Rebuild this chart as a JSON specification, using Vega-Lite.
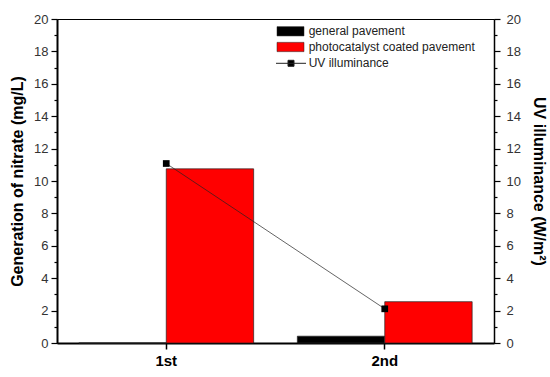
{
  "$schema": "https://vega.github.io/schema/vega-lite/v6.json",
  "width": 437,
  "height": 324,
  "autosize": "none",
  "padding": {"left": 57, "top": 19, "right": 56, "bottom": 34},
  "background": "white",
  "config": {
    "font": "Liberation Sans",
    "view": {"stroke": "black", "strokeWidth": 1},
    "axis": {"grid": false, "domainColor": "black", "tickColor": "black", "labelColor": "#333", "titleColor": "black"},
    "legend": {"padding": 0, "labelFont": "Liberation Sans", "labelFontSize": 12, "labelColor": "#222", "labelLimit": 300}
  },
  "datasets": {
    "bars": [
      {"trial": "1st", "series": "general pavement", "nitrate": 0},
      {"trial": "1st", "series": "photocatalyst coated pavement", "nitrate": 10.75},
      {"trial": "2nd", "series": "general pavement", "nitrate": 0.42},
      {"trial": "2nd", "series": "photocatalyst coated pavement", "nitrate": 2.55}
    ],
    "uv": [
      {"trial": "1st", "measure": "UV illuminance", "uv": 11.08},
      {"trial": "2nd", "measure": "UV illuminance", "uv": 2.11}
    ]
  },
  "encoding": {
    "x": {
      "field": "trial", "type": "nominal",
      "scale": {"domain": ["1st", "2nd"], "paddingInner": 0.2, "paddingOuter": 0.1},
      "axis": {"title": null, "labelAngle": 0, "labelFontSize": 15, "labelFontWeight": "bold", "labelColor": "black", "domainWidth": 2, "tickSize": 6, "tickWidth": 1.5, "labelPadding": 4}
    }
  },
  "layer": [
    {
      "data": {"name": "bars"},
      "mark": {"type": "bar", "stroke": "#222", "strokeWidth": 0.7},
      "encoding": {
        "xOffset": {"field": "series", "type": "nominal", "scale": {"domain": ["general pavement", "photocatalyst coated pavement"], "paddingInner": 0, "paddingOuter": 0}},
        "y": {
          "field": "nitrate", "type": "quantitative",
          "scale": {"domain": [0, 20], "nice": false},
          "axis": {
            "orient": "left", "title": "Generation of nitrate (mg/L)", "titleFontSize": 16, "titleFontWeight": "bold", "titlePadding": 8,
            "values": [0,1,2,3,4,5,6,7,8,9,10,11,12,13,14,15,16,17,18,19,20],
            "labelExpr": "datum.value % 2 === 0 ? datum.label : ''",
            "tickSize": {"condition": {"test": "datum.value % 2 === 0", "value": 6}, "value": 3},
            "tickWidth": 1.2, "domainWidth": 2, "labelFontSize": 13, "labelPadding": 3
          }
        },
        "fill": {
          "field": "series", "type": "nominal",
          "scale": {"domain": ["general pavement", "photocatalyst coated pavement"], "range": ["black", "#FF0000"]},
          "legend": {"title": null, "orient": "none", "legendX": 227.5, "legendY": 6.3, "symbolType": "M-2.9,-1H2.9V1H-2.9Z", "symbolSize": 86.5, "symbolStrokeColor": "#222", "symbolStrokeWidth": 0.5, "labelOffset": 12.2, "rowPadding": 3.7}
        }
      }
    },
    {
      "data": {"name": "uv"},
      "mark": {"type": "line", "strokeWidth": 0.7, "color": "#222"},
      "encoding": {
        "y": {
          "field": "uv", "type": "quantitative",
          "scale": {"domain": [0, 20], "nice": false},
          "axis": {
            "orient": "right", "title": "UV illuminance (W/m²)", "titleFontSize": 16, "titleFontWeight": "bold", "titlePadding": 10,
            "values": [0,1,2,3,4,5,6,7,8,9,10,11,12,13,14,15,16,17,18,19,20],
            "labelExpr": "datum.value % 2 === 0 ? datum.label : ''",
            "tickSize": {"condition": {"test": "datum.value % 2 === 0", "value": 6}, "value": 3},
            "tickWidth": 1.2, "domainWidth": 1.5, "labelFontSize": 13, "labelPadding": 6
          }
        },
        "stroke": {
          "field": "measure", "type": "nominal",
          "scale": {"domain": ["UV illuminance"], "range": ["#222"]},
          "legend": {"title": null, "orient": "none", "legendX": 228, "legendY": 38.3, "symbolType": "M-3,0H3M-0.6,-0.6H0.6V0.6H-0.6Z", "symbolSize": 100, "symbolStrokeWidth": 1, "labelOffset": 11.7, "encode": {"symbols": {"update": {"fill": {"value": "black"}}}}}
        }
      }
    },
    {
      "data": {"name": "uv"},
      "mark": {"type": "point", "shape": "square", "filled": true, "size": 45, "color": "black", "opacity": 1},
      "encoding": {
        "y": {"field": "uv", "type": "quantitative", "scale": {"domain": [0, 20], "nice": false}, "axis": null}
      }
    }
  ],
  "resolve": {"scale": {"y": "independent"}}
}
